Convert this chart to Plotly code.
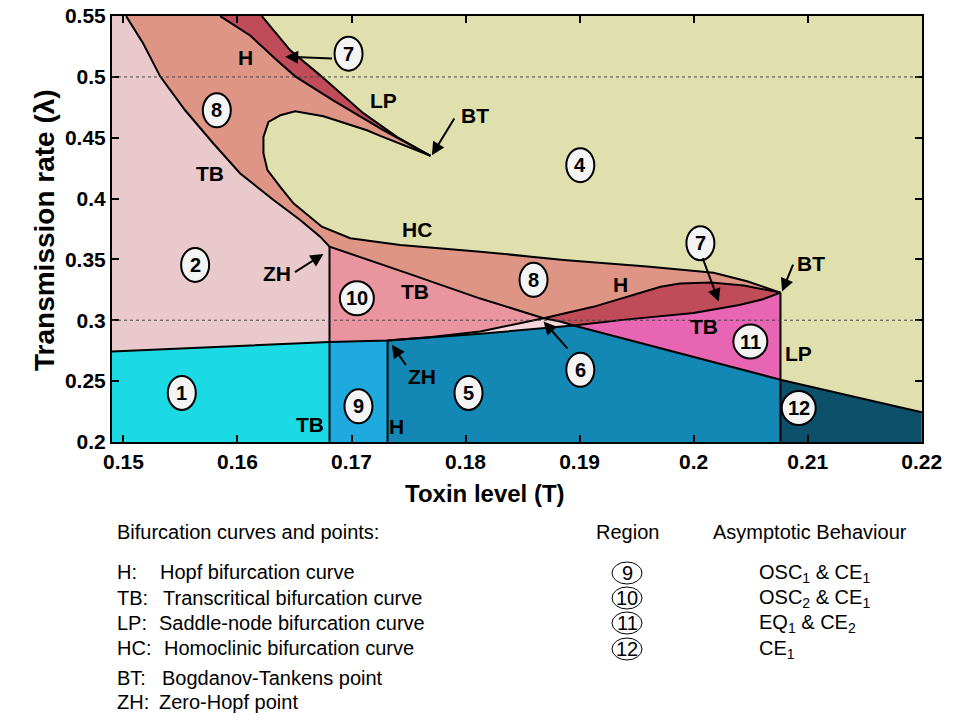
import plotly.graph_objects as go

# ---- bifurcation curves, (toxin level T, transmission rate lambda) ----
# transcritical curve, upper branch: top edge down to the first ZH point
tb_top_x = [0.15024, 0.15175, 0.15322, 0.15541, 0.15789, 0.16024, 0.16316, 0.16550, 0.16725, 0.16807]
tb_top_y = [0.5500, 0.5273, 0.5005, 0.4726, 0.4453, 0.4207, 0.3988, 0.3824, 0.3687, 0.3605]
# same curve after ZH, split at the H crossing, the lower-TB crossing and the LP line
tb1_x = [0.16807, 0.1750, 0.18129, 0.18684]
tb1_y = [0.3605, 0.3383, 0.3178, 0.3017]
tb2_x = [0.18684, 0.1883, 0.18947]
tb2_y = [0.3017, 0.2989, 0.2957]
tb3_x = [0.18947, 0.1950, 0.2000, 0.20761]
tb3_y = [0.2957, 0.2822, 0.2700, 0.2511]
tb4_x = [0.20761, 0.2135, 0.2200]
tb4_y = [0.2511, 0.2384, 0.2243]

# lower transcritical curve
low0_x = [0.149, 0.16807, 0.17316]
low0_y = [0.2743, 0.2821, 0.2833]
low1_x = [0.17316, 0.1770, 0.18129, 0.18947]
low1_y = [0.2833, 0.2858, 0.2888, 0.2957]
low2_x = [0.18947, 0.1940, 0.2000, 0.2040, 0.2060, 0.20761]
low2_y = [0.2957, 0.3005, 0.3060, 0.3125, 0.3170, 0.3227]

# lower Hopf curve (ZH -> BT)
h1_x = [0.17316, 0.1770, 0.18129, 0.1840, 0.18684]
h1_y = [0.2833, 0.2862, 0.2907, 0.2958, 0.3017]
h2_x = [0.18684, 0.1912, 0.1942, 0.1971, 0.1988, 0.2015, 0.2044, 0.20761]
h2_y = [0.3017, 0.3110, 0.3195, 0.3275, 0.3302, 0.3310, 0.3285, 0.3227]

# homoclinic curve, lower BT round the loop to upper BT
hc_x = [0.20761, 0.20468, 0.20175, 0.19591, 0.18860, 0.18129, 0.17427, 0.16989, 0.16740, 0.16491,
        0.16375, 0.16263, 0.16228, 0.16228, 0.16272, 0.16375, 0.16506, 0.16754, 0.17135, 0.17252, 0.17693]
hc_y = [0.3227, 0.3320, 0.3390, 0.3441, 0.3496, 0.3564, 0.3619, 0.3674, 0.3769, 0.3961,
        0.4097, 0.4234, 0.4371, 0.4507, 0.4630, 0.4685, 0.4718, 0.4677, 0.4562, 0.4515, 0.4352]

# upper Hopf and saddle-node curves, top edge to upper BT
hu_x = [0.15848, 0.16111, 0.16348, 0.16506, 0.16839, 0.17278, 0.17693]
hu_y = [0.5500, 0.5341, 0.5136, 0.5005, 0.4808, 0.4562, 0.4352]
lp_x = [0.16214, 0.16463, 0.16726, 0.17103, 0.17401, 0.17693]
lp_y = [0.5500, 0.5219, 0.5013, 0.4702, 0.4505, 0.4352]

# vertical curves: TB through ZH, H through ZH, LP through BT
vert_x = [0.16807, 0.17316, 0.20761]
vert_top = [0.3605, 0.2833, 0.3227]

# region labels
region_names = ["7", "8", "4", "2", "10", "1", "9", "5", "8", "7", "6", "11", "12"]
region_x = [0.16974, 0.15819, 0.19006, 0.15629, 0.17047, 0.15512, 0.17061, 0.18026, 0.18596, 0.20059, 0.19006, 0.20497, 0.20921]
region_y = [0.5191, 0.4726, 0.4275, 0.3455, 0.3181, 0.2402, 0.2292, 0.2402, 0.3332, 0.3633, 0.2593, 0.2825, 0.2279]

curve_names = ["H", "LP", "BT", "TB", "HC", "ZH", "TB", "H", "BT", "TB", "LP", "ZH", "TB", "H"]
curve_lx = [0.16068, 0.17281, 0.18080, 0.15761, 0.17574, 0.16346, 0.17559, 0.19357, 0.21030, 0.20088, 0.20921, 0.17617, 0.16638, 0.17398]
curve_ly = [0.5159, 0.4808, 0.4685, 0.4207, 0.3742, 0.3387, 0.3236, 0.3290, 0.3469, 0.2948, 0.2730, 0.2538, 0.2142, 0.2128]

# arrows: head (x, y) and tail (ax, ay)
arrow_x = [0.16418, 0.17705, 0.16754, 0.17354, 0.18684, 0.20220, 0.20775]
arrow_y = [0.5166, 0.4357, 0.3545, 0.2798, 0.2990, 0.3153, 0.3236]
arrow_ax = [0.16842, 0.17909, 0.16491, 0.17486, 0.18904, 0.20074, 0.20877]
arrow_ay = [0.5152, 0.4671, 0.3387, 0.2620, 0.2757, 0.3523, 0.3469]

legend_codes = ["H:", "TB:", "LP:", "HC:", "BT:", "ZH:"]
legend_texts = ["Hopf bifurcation curve", "Transcritical bifurcation curve", "Saddle-node bifurcation curve",
                "Homoclinic bifurcation curve", "Bogdanov-Tankens point", "Zero-Hopf point"]
table_regions = ["9", "10", "11", "12"]
table_behaviour = ["OSC<sub>1</sub> & CE<sub>1</sub>", "OSC<sub>2</sub> & CE<sub>1</sub>",
                   "EQ<sub>1</sub> & CE<sub>2</sub>", "CE<sub>1</sub>"]

FONT = "Liberation Sans, Arial, sans-serif"
X0, X1, Y0, Y1 = 0.149, 0.22, 0.2, 0.55
# body margin is cleared after load, so the figure fills the 960x720 window
L, R, T, B = 112, 38, 16, 278
W, H = 960, 720
PW, PH = W - L - R, H - T - B


def paper(px, py):
    return (px - L) / PW, (T + PH - py) / PH


def join(*parts):
    xs, ys = [], []
    for px_, py_ in parts:
        xs += list(px_)
        ys += list(py_)
    return xs, ys


def rev(x, y):
    return x[::-1], y[::-1]


regions = [
    ("#EAC9CD", join(([X0], [Y1]), (tb_top_x, tb_top_y), ([vert_x[0]], [low0_y[1]]), ([X0], [low0_y[0]]))),
    ("#1CDAE4", join(([X0, vert_x[0], vert_x[0], X0], [Y0, Y0, low0_y[1], low0_y[0]]))),
    ("#1EAADF", join(([vert_x[0], vert_x[1], vert_x[1], vert_x[0]], [Y0, Y0, low0_y[2], low0_y[1]]))),
    ("#1488B4", join(([vert_x[1], vert_x[2]], [Y0, Y0]), rev(tb3_x, tb3_y), rev(low1_x, low1_y))),
    ("#0C5069", join(([vert_x[2], X1], [Y0, Y0]), rev(tb4_x, tb4_y))),
    ("#E9949F", join((tb1_x, tb1_y), rev(h1_x, h1_y), ([vert_x[0]], [low0_y[1]]))),
    ("#F6D6DB", join((h1_x, h1_y), (tb2_x, tb2_y), rev(low1_x, low1_y))),
    ("#C04C5A", join((h2_x, h2_y), rev(low2_x, low2_y), rev(tb2_x, tb2_y))),
    ("#E865B3", join((low2_x, low2_y), ([vert_x[2]], [tb3_y[-1]]), rev(tb3_x, tb3_y))),
    ("#DE9586", join((tb_top_x, tb_top_y), (tb1_x, tb1_y), (h2_x, h2_y), (hc_x, hc_y), rev(hu_x, hu_y))),
    ("#C04C5A", join((hu_x, hu_y), rev(lp_x, lp_y))),
]

fig = go.Figure()

for color, (xs, ys) in regions:
    fig.add_trace(go.Scatter(x=xs, y=ys, mode="lines", fill="toself", fillcolor=color,
                             line=dict(width=0), hoverinfo="skip", showlegend=False))

curves = [
    join((tb_top_x, tb_top_y), (tb1_x, tb1_y), (tb2_x, tb2_y), (tb3_x, tb3_y), (tb4_x, tb4_y)),
    join((low0_x, low0_y), (low1_x, low1_y), (low2_x, low2_y)),
    join((h1_x, h1_y), (h2_x, h2_y)),
    (hc_x, hc_y),
    (hu_x, hu_y),
    (lp_x, lp_y),
]
for vx, vt in zip(vert_x, vert_top):
    curves.append(([vx, vx], [Y0, vt]))

for xs, ys in curves:
    fig.add_trace(go.Scatter(x=xs, y=ys, mode="lines", line=dict(color="black", width=2),
                             hoverinfo="skip", showlegend=False))

for yv in (0.3, 0.5):
    fig.add_hline(y=yv, line=dict(color="#444444", width=1, dash="dot"))

# circled region numbers
for name, cx, cy in zip(region_names, region_x, region_y):
    w = 17 if len(name) > 1 else 14
    fig.add_shape(type="circle", xref="x", yref="y", xsizemode="pixel", ysizemode="pixel",
                  xanchor=cx, yanchor=cy, x0=-w, x1=w, y0=-17, y1=17,
                  fillcolor="#F4F4F4", line=dict(color="black", width=2))
    fig.add_annotation(x=cx, y=cy, text=name, showarrow=False,
                       font=dict(family=FONT, size=20, color="black", weight="bold"))

for name, lx, ly in zip(curve_names, curve_lx, curve_ly):
    fig.add_annotation(x=lx, y=ly, text=name, showarrow=False,
                       font=dict(family=FONT, size=21, color="black", weight="bold"))

# pointer arrows
for hx, hy, tx, ty in zip(arrow_x, arrow_y, arrow_ax, arrow_ay):
    fig.add_annotation(x=hx, y=hy, ax=tx, ay=ty, xref="x", yref="y", axref="x", ayref="y",
                       text="", showarrow=True, arrowhead=2, arrowsize=1.3, arrowwidth=2,
                       arrowcolor="black", standoff=0)


def note(px, py, text, size=20, anchor="left"):
    a, b = paper(px, py)
    fig.add_annotation(x=a, y=b, xref="paper", yref="paper", xanchor=anchor, yanchor="middle",
                       showarrow=False, text=text, font=dict(family=FONT, size=size, color="black"))


# axis titles
a, b = paper(485, 493)
fig.add_annotation(x=a, y=b, xref="paper", yref="paper", xanchor="center", yanchor="middle",
                   text="Toxin level (T)", showarrow=False,
                   font=dict(family=FONT, size=24, color="black", weight="bold"))
a, b = paper(45, 230)
fig.add_annotation(x=a, y=b, xref="paper", yref="paper", xanchor="center", yanchor="middle",
                   text="Transmission rate (λ)", showarrow=False, textangle=-90,
                   font=dict(family=FONT, size=28, color="black", weight="bold"))

# notes under the chart
note(115, 532, "Bifurcation curves and points:")
code_rows = [572, 598, 623, 648, 678, 702]
text_x = [158, 161, 157, 162, 160, 157]
for code, desc, row, dx in zip(legend_codes, legend_texts, code_rows, text_x):
    note(115, row, code)
    note(dx, row, desc)

note(627, 532, "Region", anchor="center")
note(810, 532, "Asymptotic Behaviour", anchor="center")

table_rows = [573, 598, 623, 649]
for reg, beh, row in zip(table_regions, table_behaviour, table_rows):
    a, b = paper(627, row)
    fig.add_shape(type="circle", xref="paper", yref="paper", xsizemode="pixel", ysizemode="pixel",
                  xanchor=a, yanchor=b, x0=-15, x1=15, y0=-11, y1=11,
                  line=dict(color="black", width=1), layer="above")
    note(627, row, reg, anchor="center")
    note(757, row, beh)

axis_common = dict(showline=True, linecolor="black", linewidth=2, mirror="ticks", ticks="inside",
                   ticklen=7, tickwidth=2, tickcolor="black", showgrid=False, zeroline=False,
                   ticklabeloverflow="allow", automargin=False,
                   tickfont=dict(family=FONT, size=21, color="black", weight="bold"))
fig.update_xaxes(range=[X0, X1 + 0.00002], tickvals=[0.15, 0.16, 0.17, 0.18, 0.19, 0.2, 0.21, 0.22],
                 ticktext=["0.15", "0.16", "0.17", "0.18", "0.19", "0.2", "0.21", "0.22"], **axis_common)
fig.update_yaxes(range=[Y0 - 0.0001, Y1 + 0.0001], tickvals=[0.2, 0.25, 0.3, 0.35, 0.4, 0.45, 0.5, 0.55],
                 ticktext=["0.2", "0.25", "0.3", "0.35", "0.4", "0.45", "0.5", "0.55"], **axis_common)

fig.update_layout(width=W, height=H, margin=dict(l=L, r=R, t=T, b=B, autoexpand=False),
                  plot_bgcolor="#E0E0AE", paper_bgcolor="white", showlegend=False)

fig.write_html("out.html", config={"displayModeBar": False},
               post_script="document.body.style.margin='0';")
